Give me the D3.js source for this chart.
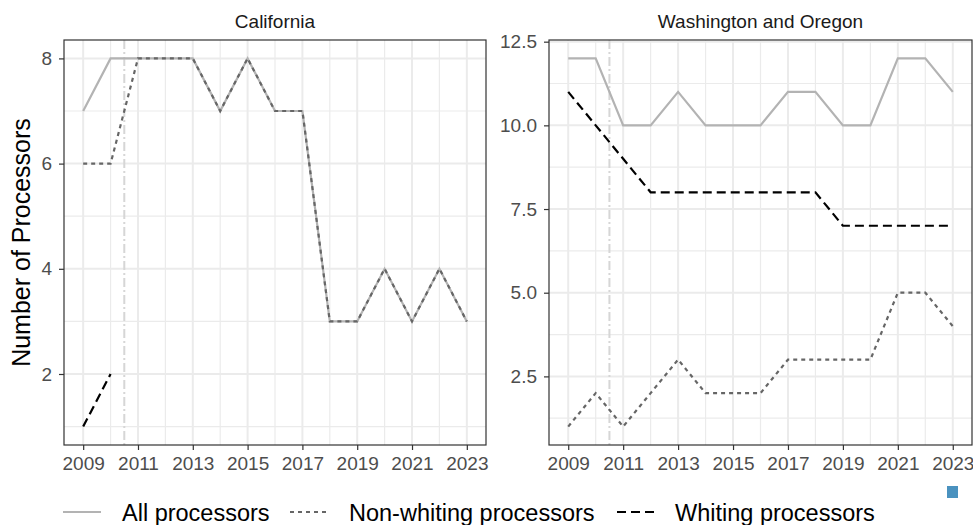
<!DOCTYPE html>
<html>
<head>
<meta charset="utf-8">
<script src="https://cdn.jsdelivr.net/npm/d3@7"></script>
<style>
  body { margin: 0; background: #fff; }
  svg { font-family: Arial, "Liberation Sans", sans-serif; }
</style>
</head>
<body>
<div id="chart"></div>
<script>
// years on the x axis
var years = [2009, 2010, 2011, 2012, 2013, 2014, 2015, 2016, 2017, 2018, 2019, 2020, 2021, 2022, 2023];
var xTicks = [2009, 2011, 2013, 2015, 2017, 2019, 2021, 2023];

// California
var caAll = [7, 8, 8, 8, 8, 7, 8, 7, 7, 3, 3, 4, 3, 4, 3];
var caNonWhiting = [6, 6, 8, 8, 8, 7, 8, 7, 7, 3, 3, 4, 3, 4, 3];
var caWhiting = [1, 2, null, null, null, null, null, null, null, null, null, null, null, null, null];
var caTicks = [2, 4, 6, 8];

// Washington and Oregon
var waAll = [12, 12, 10, 10, 11, 10, 10, 10, 11, 11, 10, 10, 12, 12, 11];
var waNonWhiting = [1, 2, 1, 2, 3, 2, 2, 2, 3, 3, 3, 3, 5, 5, 4];
var waWhiting = [11, 10, 9, 8, 8, 8, 8, 8, 8, 8, 7, 7, 7, 7, 7];
var waTicks = [2.5, 5.0, 7.5, 10.0, 12.5];

var refYear = 2010.5;
var panelTitles = ["California", "Washington and Oregon"];
var seriesNames = ["All processors", "Non-whiting processors", "Whiting processors"];

var styles = [
  { color: "#b3b3b3", dash: null },
  { color: "#666666", dash: "4,4" },
  { color: "#000000", dash: "9,5" }
];

var svg = d3.select("#chart").append("svg")
  .attr("width", 973)
  .attr("height", 525);

var panels = [
  { title: panelTitles[0], left: 64, right: 486, series: [caAll, caNonWhiting, caWhiting],
    domain: [0.65, 8.35], ticks: caTicks, minor: [1, 3, 5, 7], fmt: d3.format("d") },
  { title: panelTitles[1], left: 549, right: 972, series: [waAll, waNonWhiting, waWhiting],
    domain: [0.45, 12.55], ticks: waTicks, minor: [1.25, 3.75, 6.25, 8.75, 11.25], fmt: d3.format(".1f") }
];

var plotTop = 40, plotBottom = 445;

panels.forEach(function(p) {
  var x = d3.scaleLinear().domain([2008.3, 2023.7]).range([p.left, p.right]);
  var y = d3.scaleLinear().domain(p.domain).range([plotBottom, plotTop]);

  var g = svg.append("g");

  // minor grid
  years.filter(function(d) { return xTicks.indexOf(d) < 0; }).forEach(function(d) {
    g.append("line").attr("x1", x(d)).attr("x2", x(d)).attr("y1", plotTop).attr("y2", plotBottom)
      .attr("stroke", "#ebebeb").attr("stroke-width", 1.2);
  });
  p.minor.forEach(function(d) {
    g.append("line").attr("x1", p.left).attr("x2", p.right).attr("y1", y(d)).attr("y2", y(d))
      .attr("stroke", "#ebebeb").attr("stroke-width", 1.2);
  });
  // major grid
  xTicks.forEach(function(d) {
    g.append("line").attr("x1", x(d)).attr("x2", x(d)).attr("y1", plotTop).attr("y2", plotBottom)
      .attr("stroke", "#ebebeb").attr("stroke-width", 2);
  });
  p.ticks.forEach(function(d) {
    g.append("line").attr("x1", p.left).attr("x2", p.right).attr("y1", y(d)).attr("y2", y(d))
      .attr("stroke", "#ebebeb").attr("stroke-width", 2);
  });

  // reference line
  g.append("line")
    .attr("x1", x(refYear)).attr("x2", x(refYear)).attr("y1", plotTop).attr("y2", plotBottom)
    .attr("stroke", "#d6d6d6").attr("stroke-width", 2)
    .attr("stroke-dasharray", "9,3,2,3");

  // series
  p.series.forEach(function(vals, i) {
    var line = d3.line()
      .defined(function(d) { return d != null; })
      .x(function(d, j) { return x(years[j]); })
      .y(function(d) { return y(d); });
    g.append("path")
      .attr("d", line(vals))
      .attr("fill", "none")
      .attr("stroke", styles[i].color)
      .attr("stroke-width", 2.2)
      .attr("stroke-dasharray", styles[i].dash);
  });

  // border
  g.append("rect")
    .attr("x", p.left).attr("y", plotTop)
    .attr("width", p.right - p.left).attr("height", plotBottom - plotTop)
    .attr("fill", "none").attr("stroke", "#333333").attr("stroke-width", 1.2);

  // axes
  var xAxis = g.append("g")
    .attr("transform", "translate(0," + plotBottom + ")")
    .call(d3.axisBottom(x).tickValues(xTicks).tickFormat(d3.format("d")).tickSize(5).tickPadding(7));
  var yAxis = g.append("g")
    .attr("transform", "translate(" + p.left + ",0)")
    .call(d3.axisLeft(y).tickValues(p.ticks).tickFormat(p.fmt).tickSize(5).tickPadding(7));
  [xAxis, yAxis].forEach(function(a) {
    a.select(".domain").remove();
    a.selectAll(".tick line").attr("stroke", "#333333").attr("stroke-width", 1.2);
    a.selectAll(".tick text").attr("fill", "#4d4d4d").style("font-size", "19px");
  });

  // strip title
  svg.append("text")
    .attr("x", (p.left + p.right) / 2).attr("y", 28)
    .attr("text-anchor", "middle")
    .attr("fill", "#1a1a1a")
    .style("font-size", "19px")
    .text(p.title);
});

// y axis title
svg.append("text")
  .attr("transform", "translate(30," + (plotTop + plotBottom) / 2 + ") rotate(-90)")
  .attr("text-anchor", "middle")
  .style("font-size", "25px")
  .attr("fill", "#000")
  .text("Number of Processors");

// legend
var legendX = [63, 290, 617];
seriesNames.forEach(function(name, i) {
  var lg = svg.append("g").attr("transform", "translate(" + legendX[i] + ",512)");
  lg.append("line").attr("x1", 0).attr("x2", 38).attr("y1", 0).attr("y2", 0)
    .attr("stroke", styles[i].color).attr("stroke-width", 2.2)
    .attr("stroke-dasharray", styles[i].dash);
  lg.append("text").attr("x", i === 2 ? 58 : 59).attr("y", 8.5)
    .style("font-size", "23.5px").attr("fill", "#000")
    .text(name);
});

// small marker at bottom right
svg.append("rect")
  .attr("x", 947).attr("y", 486).attr("width", 11).attr("height", 12)
  .attr("fill", "#4a92bf");
</script>
</body>
</html>
